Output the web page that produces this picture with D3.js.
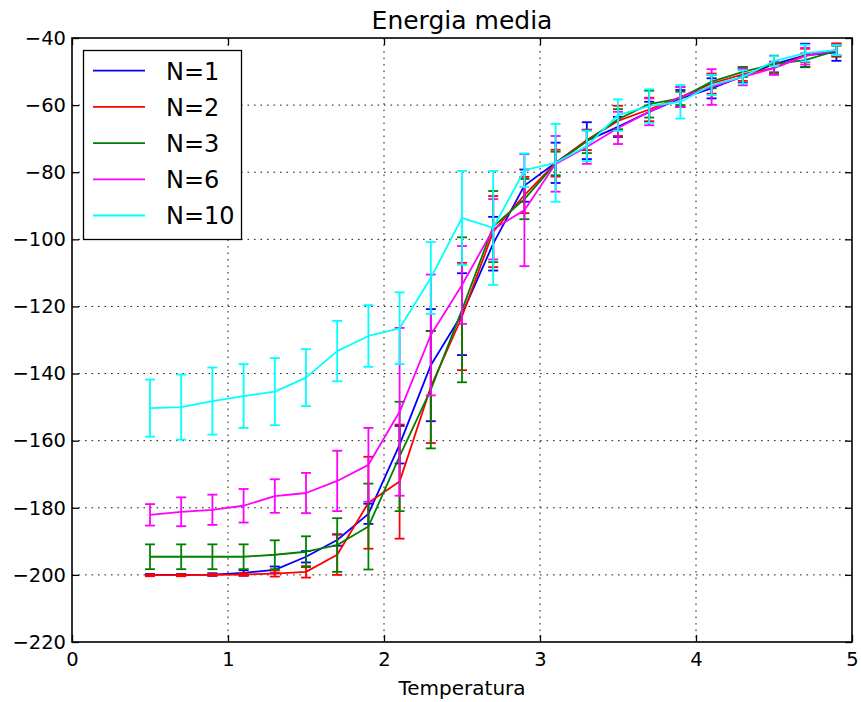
<!DOCTYPE html>
<html>
<head>
<meta charset="utf-8">
<script src="https://cdn.jsdelivr.net/npm/d3@7"></script>
<style>
  body { margin: 0; background: #fff; }
  text { font-family: "DejaVu Sans", sans-serif; }
</style>
</head>
<body>
<svg id="chart" width="861" height="702"></svg>
<script>
const temps = [0.5, 0.7, 0.9, 1.1, 1.3, 1.5, 1.7, 1.9, 2.1, 2.3, 2.5, 2.7, 2.9, 3.1, 3.3, 3.5, 3.7, 3.9, 4.1, 4.3, 4.5, 4.7, 4.9]

const n1Values = [-200.0, -200.0, -199.9, -199.4, -198.5, -194.6, -189.6, -181.8, -161.2, -137.5, -122.3, -101.3, -84.0, -77.2, -70.6, -66.5, -62.0, -58.0, -55.0, -51.4, -47.8, -45.2, -44.3]
const n1Errors = [0.3, 0.3, 0.4, 0.8, 1.0, 1.7, 1.7, 3.0, 5.6, 16.7, 12.2, 8.0, 4.8, 6.0, 5.5, 3.0, 3.0, 2.5, 3.0, 2.0, 2.5, 3.5, 2.5]

const n2Values = [-200.1, -200.1, -200.0, -199.9, -199.6, -199.1, -194.0, -178.5, -172.2, -144.0, -123.0, -97.7, -86.8, -77.3, -70.4, -64.7, -61.3, -57.6, -53.6, -50.8, -48.9, -45.2, -43.6]
const n2Errors = [0.3, 0.3, 0.3, 0.4, 0.9, 1.7, 6.0, 13.7, 17.0, 16.7, 16.0, 10.6, 5.4, 4.0, 3.0, 4.5, 3.5, 3.0, 3.0, 2.0, 1.5, 2.0, 2.0]

const n3Values = [-194.6, -194.6, -194.6, -194.6, -194.0, -193.1, -191.1, -185.6, -164.7, -144.8, -121.0, -96.2, -88.0, -77.4, -70.8, -64.2, -59.7, -58.0, -53.0, -50.1, -47.8, -46.6, -43.8]
const n3Errors = [3.7, 3.7, 3.7, 3.7, 4.3, 4.6, 8.0, 12.8, 16.3, 17.5, 21.6, 10.6, 6.0, 3.5, 3.5, 3.0, 4.0, 2.0, 2.0, 1.5, 2.5, 2.0, 1.5]

const n6Values = [-182.1, -181.2, -180.6, -179.4, -176.5, -175.6, -172.0, -167.2, -151.4, -128.5, -113.6, -97.0, -91.3, -77.5, -72.5, -66.8, -62.0, -57.6, -54.6, -51.6, -49.0, -45.4, -43.6]
const n6Errors = [3.2, 4.3, 4.5, 5.0, 5.0, 6.0, 9.0, 11.0, 25.0, 18.0, 11.6, 9.0, 16.7, 8.3, 5.0, 4.8, 4.0, 3.0, 5.3, 2.5, 2.0, 2.5, 1.5]

const n10Values = [-150.3, -150.0, -148.2, -146.7, -145.4, -141.2, -133.3, -128.8, -126.5, -111.5, -93.6, -96.6, -79.4, -77.2, -72.2, -63.0, -60.3, -59.0, -54.0, -51.6, -46.9, -44.5, -43.6]
const n10Errors = [8.5, 9.7, 10.0, 9.5, 10.0, 8.5, 9.0, 9.2, 10.7, 10.7, 14.0, 17.0, 5.0, 11.6, 4.5, 4.7, 5.0, 5.0, 3.0, 2.0, 1.5, 2.5, 1.5]

const seriesNames = ['N=1', 'N=2', 'N=3', 'N=6', 'N=10']
const seriesColors = ['#0000ff', '#ff0000', '#008000', '#ff00ff', '#00ffff']
const xTicks = [0, 1, 2, 3, 4, 5]
const yTicks = [-220, -200, -180, -160, -140, -120, -100, -80, -60, -40]

const allValues = [n1Values, n2Values, n3Values, n6Values, n10Values]
const allErrors = [n1Errors, n2Errors, n3Errors, n6Errors, n10Errors]

const plotLeft = 72, plotTop = 38, plotRight = 852, plotBottom = 642

const svg = d3.select('#chart')

const x = d3.scaleLinear().domain([0, 5]).range([plotLeft, plotRight])
const y = d3.scaleLinear().domain([-220, -40]).range([plotBottom, plotTop])

// dotted grid, only on inner ticks
const grid = svg.append('g')
  .attr('stroke', '#000')
  .attr('stroke-width', 0.9)
  .attr('stroke-dasharray', '1.6,4.9')
grid.selectAll('.gx')
  .data(xTicks.slice(1, -1))
  .enter()
  .append('line')
  .attr('x1', d => x(d)).attr('x2', d => x(d))
  .attr('y1', plotTop).attr('y2', plotBottom)
grid.selectAll('.gy')
  .data(yTicks.slice(1, -1))
  .enter()
  .append('line')
  .attr('x1', plotLeft).attr('x2', plotRight)
  .attr('y1', d => y(d)).attr('y2', d => y(d))

// series: error bars first, then the line
const line = d3.line()
  .x((d, i) => x(temps[i]))
  .y(d => y(d))

allValues.forEach((vals, s) => {
  const errs = allErrors[s]
  const g = svg.append('g')
    .attr('stroke', seriesColors[s])
    .attr('stroke-width', 1.8)
    .attr('fill', 'none')

  const bars = g.selectAll('.bar')
    .data(vals)
    .enter()
    .append('g')
  bars.append('line')
    .attr('x1', (d, i) => x(temps[i])).attr('x2', (d, i) => x(temps[i]))
    .attr('y1', (d, i) => y(d + errs[i])).attr('y2', (d, i) => y(d - errs[i]))
  bars.append('line')
    .attr('x1', (d, i) => x(temps[i]) - 5).attr('x2', (d, i) => x(temps[i]) + 5)
    .attr('y1', (d, i) => y(d + errs[i])).attr('y2', (d, i) => y(d + errs[i]))
  bars.append('line')
    .attr('x1', (d, i) => x(temps[i]) - 5).attr('x2', (d, i) => x(temps[i]) + 5)
    .attr('y1', (d, i) => y(d - errs[i])).attr('y2', (d, i) => y(d - errs[i]))

  g.append('path')
    .attr('d', line(vals))
    .attr('stroke-linejoin', 'round')
})

// axes with inward ticks on all four sides
const fmt = d3.format('d')
svg.append('g')
  .attr('transform', `translate(0,${plotBottom})`)
  .call(d3.axisBottom(x).tickValues(xTicks).tickFormat(fmt).tickSize(-7).tickPadding(10))
svg.append('g')
  .attr('transform', `translate(${plotLeft},0)`)
  .call(d3.axisLeft(y).tickValues(yTicks).tickFormat(fmt).tickSize(-7).tickPadding(6))
svg.append('g')
  .attr('transform', `translate(0,${plotTop})`)
  .call(d3.axisTop(x).tickValues(xTicks).tickFormat('').tickSize(-7))
svg.append('g')
  .attr('transform', `translate(${plotRight},0)`)
  .call(d3.axisRight(y).tickValues(yTicks).tickFormat('').tickSize(-7))

svg.selectAll('.domain').remove()
svg.selectAll('.tick line').attr('stroke', '#000').attr('stroke-width', 1.3)
svg.selectAll('.tick text')
  .attr('fill', '#000')
  .style('font-size', '19.5px')
  .style('font-family', '"DejaVu Sans", sans-serif')

svg.append('rect')
  .attr('x', plotLeft).attr('y', plotTop)
  .attr('width', plotRight - plotLeft).attr('height', plotBottom - plotTop)
  .attr('fill', 'none')
  .attr('stroke', '#000')
  .attr('stroke-width', 1.6)

// title and label
svg.append('text')
  .attr('x', (plotLeft + plotRight) / 2).attr('y', 29)
  .attr('text-anchor', 'middle')
  .style('font-size', '25px')
  .text('Energia media')

svg.append('text')
  .attr('x', (plotLeft + plotRight) / 2).attr('y', 695)
  .attr('text-anchor', 'middle')
  .style('font-size', '20px')
  .text('Temperatura')

// legend
const legend = svg.append('g')
legend.append('rect')
  .attr('x', 83.5).attr('y', 50.5)
  .attr('width', 158).attr('height', 189)
  .attr('fill', '#fff')
  .attr('stroke', '#000')
  .attr('stroke-width', 1.3)

const items = legend.selectAll('.item')
  .data(seriesNames)
  .enter()
  .append('g')
  .attr('transform', (d, i) => `translate(0,${70.7 + i * 36.2})`)
items.append('line')
  .attr('x1', 93).attr('x2', 145)
  .attr('stroke', (d, i) => seriesColors[i])
  .attr('stroke-width', 1.8)
items.append('text')
  .attr('x', 166).attr('y', 8.8)
  .style('font-size', '24px')
  .text(d => d)
</script>
</body>
</html>
